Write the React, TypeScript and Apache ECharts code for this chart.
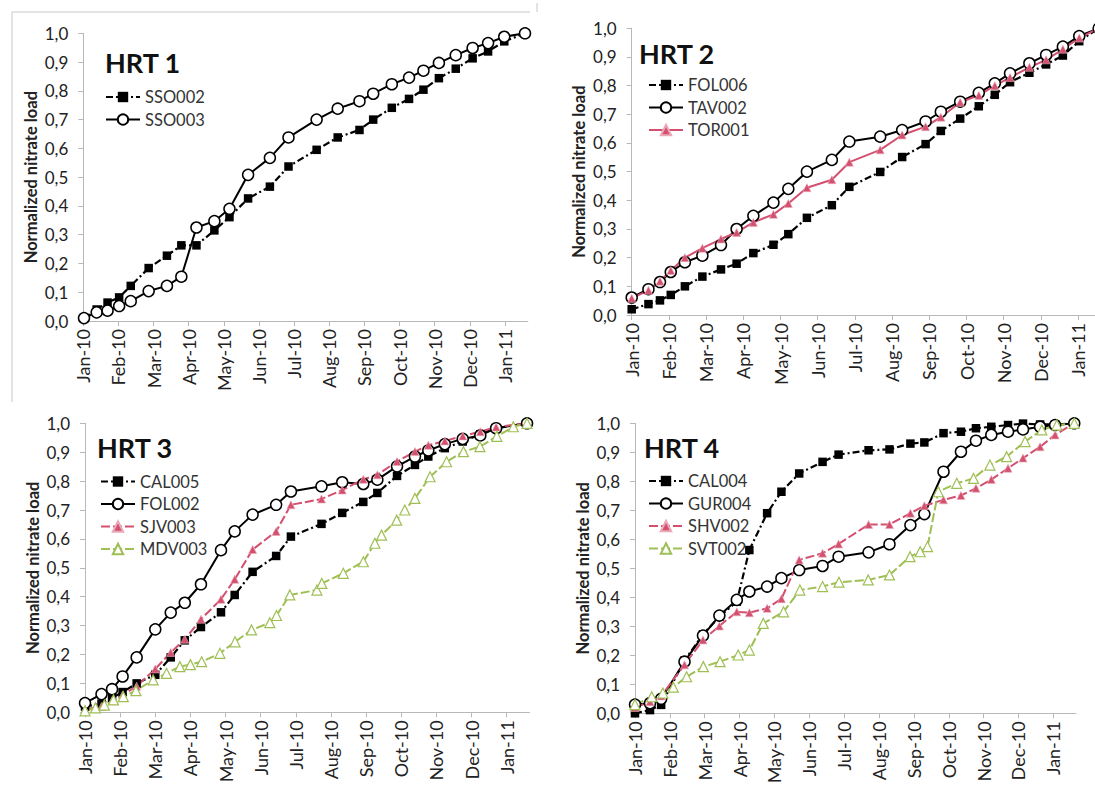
import React, { useEffect, useRef } from 'react';
import * as echarts from 'echarts';

const monthLabels = ['Jan-10', 'Feb-10', 'Mar-10', 'Apr-10', 'May-10', 'Jun-10', 'Jul-10', 'Aug-10', 'Sep-10', 'Oct-10', 'Nov-10', 'Dec-10', 'Jan-11'];
const monthTicks = [0, 1, 2, 3, 4, 5, 6, 7, 8, 9, 10, 11, 12];
const panelTitles = ['HRT 1', 'HRT 2', 'HRT 3', 'HRT 4'];

// HRT 1 (x = months since Jan-10)
const hrt1Dates = [0.02, 0.38, 0.69, 1.02, 1.35, 1.86, 2.38, 2.79, 3.22, 3.73, 4.16, 4.69, 5.31, 5.84, 6.64, 7.24, 7.86, 8.25, 8.78, 9.27, 9.68, 10.12, 10.6, 11.08, 11.52, 11.98, 12.57];
const sso002 = [0.01, 0.04, 0.064, 0.082, 0.122, 0.184, 0.227, 0.263, 0.263, 0.315, 0.361, 0.426, 0.467, 0.537, 0.595, 0.638, 0.664, 0.7, 0.741, 0.772, 0.804, 0.844, 0.877, 0.913, 0.937, 0.972, 1.0];
const sso003 = [0.01, 0.03, 0.036, 0.052, 0.069, 0.104, 0.122, 0.154, 0.325, 0.347, 0.39, 0.508, 0.567, 0.638, 0.7, 0.738, 0.764, 0.79, 0.823, 0.846, 0.87, 0.897, 0.924, 0.949, 0.966, 0.988, 1.0];

// HRT 2
const hrt2Dates = [0, 0.45, 0.76, 1.05, 1.43, 1.9, 2.4, 2.82, 3.27, 3.81, 4.21, 4.71, 5.38, 5.85, 6.68, 7.27, 7.9, 8.31, 8.83, 9.33, 9.76, 10.17, 10.69, 11.14, 11.59, 12.03, 12.55];
const fol006 = [0.02, 0.038, 0.051, 0.07, 0.1, 0.134, 0.159, 0.179, 0.216, 0.245, 0.282, 0.339, 0.383, 0.447, 0.499, 0.551, 0.596, 0.642, 0.685, 0.728, 0.768, 0.812, 0.845, 0.874, 0.905, 0.955, 1.0];
const tav002 = [0.061, 0.09, 0.115, 0.15, 0.184, 0.207, 0.244, 0.3, 0.346, 0.392, 0.44, 0.5, 0.541, 0.605, 0.622, 0.645, 0.675, 0.709, 0.744, 0.775, 0.808, 0.843, 0.878, 0.907, 0.936, 0.973, 1.0];
const tor001 = [0.058, 0.086, 0.118, 0.155, 0.2, 0.233, 0.265, 0.288, 0.323, 0.351, 0.389, 0.444, 0.472, 0.533, 0.576, 0.628, 0.657, 0.69, 0.742, 0.766, 0.8, 0.828, 0.864, 0.89, 0.927, 0.966, 1.0];

// HRT 3
const hrt3Dates = [0, 0.47, 0.77, 1.07, 1.47, 2.0, 2.44, 2.84, 3.3, 3.87, 4.26, 4.77, 5.44, 5.86, 6.73, 7.32, 7.92, 8.32, 8.88, 9.39, 9.77, 10.24, 10.75, 11.25, 11.7, 12.58];
const cal005 = [0.02, 0.03, 0.05, 0.07, 0.1, 0.13, 0.19, 0.249, 0.295, 0.346, 0.406, 0.486, 0.541, 0.608, 0.652, 0.69, 0.728, 0.759, 0.818, 0.856, 0.885, 0.914, 0.937, 0.962, 0.983, 1.0];
const fol002 = [0.032, 0.063, 0.08, 0.124, 0.19, 0.287, 0.345, 0.379, 0.443, 0.561, 0.626, 0.684, 0.718, 0.764, 0.782, 0.796, 0.79, 0.805, 0.851, 0.885, 0.906, 0.928, 0.946, 0.958, 0.983, 1.0];
const sjv003 = [0.01, 0.02, 0.04, 0.06, 0.09, 0.15, 0.207, 0.253, 0.322, 0.391, 0.46, 0.563, 0.626, 0.718, 0.738, 0.769, 0.806, 0.822, 0.868, 0.902, 0.924, 0.939, 0.956, 0.971, 0.987, 1.0];
const mdv003Dates = [0, 0.3, 0.55, 0.81, 1.09, 1.45, 1.94, 2.32, 2.7, 3.0, 3.32, 3.84, 4.27, 4.74, 5.26, 5.45, 5.83, 6.6, 6.74, 7.35, 7.92, 8.25, 8.44, 8.87, 9.1, 9.39, 9.82, 10.29, 10.77, 11.24, 11.72, 12.19, 12.58];
const mdv003 = [0.005, 0.015, 0.025, 0.043, 0.054, 0.075, 0.112, 0.135, 0.158, 0.165, 0.175, 0.204, 0.244, 0.285, 0.31, 0.335, 0.406, 0.423, 0.446, 0.481, 0.521, 0.585, 0.613, 0.665, 0.7, 0.74, 0.815, 0.867, 0.902, 0.919, 0.955, 0.988, 1.0];

// HRT 4
const hrt4Dates = [0, 0.43, 0.75, 1.42, 1.95, 2.42, 2.92, 3.28, 3.79, 4.2, 4.71, 5.38, 5.84, 6.7, 7.3, 7.9, 8.3, 8.85, 9.35, 9.78, 10.22, 10.7, 11.13, 11.62, 12.05, 12.6];
const cal004 = [0.0, 0.011, 0.029, 0.182, 0.272, 0.333, 0.385, 0.563, 0.69, 0.764, 0.827, 0.867, 0.892, 0.907, 0.91, 0.93, 0.934, 0.966, 0.971, 0.983, 0.988, 0.994, 0.999, 0.996, 0.996, 1.0];
const gur004 = [0.03, 0.035, 0.05, 0.178, 0.268, 0.337, 0.391, 0.42, 0.437, 0.466, 0.494, 0.508, 0.54, 0.555, 0.583, 0.649, 0.687, 0.833, 0.902, 0.94, 0.96, 0.971, 0.979, 0.988, 0.994, 1.0];
const shv002 = [0.02, 0.04, 0.06, 0.167, 0.253, 0.301, 0.35, 0.347, 0.362, 0.395, 0.529, 0.552, 0.584, 0.651, 0.651, 0.69, 0.716, 0.736, 0.751, 0.776, 0.806, 0.845, 0.88, 0.919, 0.96, 1.0];
const svt002Dates = [0, 0.48, 0.8, 1.1, 1.48, 1.96, 2.44, 2.96, 3.28, 3.68, 4.26, 4.73, 5.38, 5.85, 6.69, 7.3, 7.89, 8.18, 8.39, 8.7, 9.23, 9.71, 10.18, 10.66, 11.19, 11.67, 12.1, 12.6];
const svt002 = [0.03, 0.057, 0.07, 0.09, 0.126, 0.161, 0.178, 0.201, 0.218, 0.31, 0.35, 0.425, 0.437, 0.452, 0.46, 0.477, 0.54, 0.557, 0.575, 0.764, 0.793, 0.81, 0.856, 0.885, 0.937, 0.977, 0.994, 1.0];

const FONT = 'Lato, "Open Sans", sans-serif';
const RED = '#d3506f';
const GREEN = '#9fbf55';
const AXIS = '#b8b8b8';

type Kind = 'square' | 'circle' | 'redTri' | 'redTriSolid' | 'greenTri';

function styleFor(kind: Kind) {
  if (kind === 'square') {
    return {
      symbol: 'rect', symbolSize: 8.5,
      itemStyle: { color: '#000' },
      lineStyle: { color: '#000', width: 2.2, type: [7, 3, 2, 3] },
    };
  }
  if (kind === 'circle') {
    return {
      symbol: 'circle', symbolSize: 11,
      itemStyle: { color: '#fff', borderColor: '#000', borderWidth: 1.5 },
      lineStyle: { color: '#000', width: 2, type: 'solid' },
    };
  }
  if (kind === 'redTri' || kind === 'redTriSolid') {
    return {
      symbol: 'triangle', symbolSize: 8,
      itemStyle: { color: RED, borderColor: '#eba9b8', borderWidth: 0.6 },
      lineStyle: { color: RED, width: 2, type: kind === 'redTri' ? [9, 3] : 'solid' },
    };
  }
  return {
    symbol: 'triangle', symbolSize: 10,
    itemStyle: { color: '#fff', borderColor: GREEN, borderWidth: 1.2 },
    lineStyle: { color: GREEN, width: 2, type: [9, 3] },
  };
}

function line(name: string, idx: number, xs: number[], ys: number[], kind: Kind) {
  const s = styleFor(kind);
  return {
    type: 'line',
    name,
    xAxisIndex: idx,
    yAxisIndex: idx,
    data: xs.map((x, i) => [x, ys[i]]),
    symbol: s.symbol,
    symbolSize: s.symbolSize,
    showSymbol: true,
    itemStyle: s.itemStyle,
    lineStyle: s.lineStyle,
    emphasis: { disabled: true },
    silent: true,
  };
}

const grids = [
  { left: 83.3, top: 33.3, width: 444.5, height: 287.7 },
  { left: 631.7, top: 28.3, width: 470.6, height: 286.7 },
  { left: 85, top: 423.3, width: 444.5, height: 289 },
  { left: 635, top: 423.3, width: 441, height: 290 },
];

function xAxisFor(idx: number) {
  return {
    type: 'value', gridIndex: idx, min: 0, max: 12.65,
    axisLine: { show: true, lineStyle: { color: AXIS, width: 1 } },
    axisTick: { show: true, length: 5, lineStyle: { color: AXIS }, customValues: monthTicks },
    axisLabel: {
      rotate: 90, margin: 8, fontSize: 18, color: '#222', fontFamily: FONT,
      customValues: monthTicks,
      formatter: (v: number) => monthLabels[Math.round(v)] ?? '',
    },
    splitLine: { show: false },
  };
}

function yAxisFor(idx: number) {
  return {
    type: 'value', gridIndex: idx, min: 0, max: 1, interval: 0.1,
    name: 'Normalized nitrate load', nameLocation: 'middle', nameGap: 44,
    nameTextStyle: { fontSize: 16.5, fontWeight: 'bold', color: '#222', fontFamily: FONT },
    axisLine: { show: true, lineStyle: { color: AXIS, width: 1 } },
    axisTick: { show: true, length: 5, lineStyle: { color: AXIS } },
    axisLabel: {
      margin: 15, fontSize: 17, color: '#222', fontFamily: FONT,
      formatter: (v: number) => v.toFixed(1).replace('.', ','),
    },
    splitLine: { show: false },
  };
}

function legendFor(names: string[], left: number, firstRowCenter: number) {
  return {
    data: names, orient: 'vertical', left, top: firstRowCenter - 8.5,
    padding: 0,
    itemWidth: 34, itemHeight: 13, itemGap: 5.5, selectedMode: false,
    textStyle: { fontSize: 16.5, color: '#333', fontFamily: FONT },
  };
}

const titlePos = [
  [105, 62], [639, 53], [97, 447], [644, 447],
];

export default function App() {
  const ref = useRef<HTMLDivElement>(null);
  useEffect(() => {
    if (!ref.current) return;
    const chart = echarts.init(ref.current, null, { renderer: 'svg' });
    const option: any = {
      animation: false,
      backgroundColor: '#fff',
      grid: grids.map((g) => ({ ...g, containLabel: false, outerBoundsMode: 'none' })),
      xAxis: [0, 1, 2, 3].map(xAxisFor),
      yAxis: [0, 1, 2, 3].map(yAxisFor),
      legend: [
        legendFor(['SSO002', 'SSO003'], 105, 97),
        legendFor(['FOL006', 'TAV002', 'TOR001'], 648, 85),
        legendFor(['CAL005', 'FOL002', 'SJV003', 'MDV003'], 100, 481.5),
        legendFor(['CAL004', 'GUR004', 'SHV002', 'SVT002'], 648, 481),
      ],
      series: [
        line('SSO002', 0, hrt1Dates, sso002, 'square'),
        line('SSO003', 0, hrt1Dates, sso003, 'circle'),
        line('FOL006', 1, hrt2Dates, fol006, 'square'),
        line('TAV002', 1, hrt2Dates, tav002, 'circle'),
        line('TOR001', 1, hrt2Dates, tor001, 'redTriSolid'),
        line('CAL005', 2, hrt3Dates, cal005, 'square'),
        line('FOL002', 2, hrt3Dates, fol002, 'circle'),
        line('SJV003', 2, hrt3Dates, sjv003, 'redTri'),
        line('MDV003', 2, mdv003Dates, mdv003, 'greenTri'),
        line('CAL004', 3, hrt4Dates, cal004, 'square'),
        line('GUR004', 3, hrt4Dates, gur004, 'circle'),
        line('SHV002', 3, hrt4Dates, shv002, 'redTri'),
        line('SVT002', 3, svt002Dates, svt002, 'greenTri'),
      ],
      graphic: [
        {
          type: 'polyline', silent: true,
          shape: { points: [[12, 402], [12, 12], [530, 12]] },
          style: { stroke: '#c8c8c8', lineWidth: 1, fill: null },
        },
        {
          type: 'line', silent: true,
          shape: { x1: 537, y1: 3, x2: 537, y2: 12 },
          style: { stroke: '#c8c8c8', lineWidth: 1 },
        },
        ...panelTitles.map((t, i) => ({
          type: 'text', silent: true,
          style: {
            text: t, x: titlePos[i][0], y: titlePos[i][1],
            font: `bold 27px ${FONT}`, fill: '#111',
            textVerticalAlign: 'middle', verticalAlign: 'middle',
          },
        })),
      ],
    };
    chart.setOption(option);
    return () => chart.dispose();
  }, []);
  return (
    <div style={{ position: 'fixed', left: 0, top: 0, width: 1095, height: 785, overflow: 'hidden', background: '#fff' }}>
      <div ref={ref} style={{ width: 1130, height: 785 }} />
    </div>
  );
}
